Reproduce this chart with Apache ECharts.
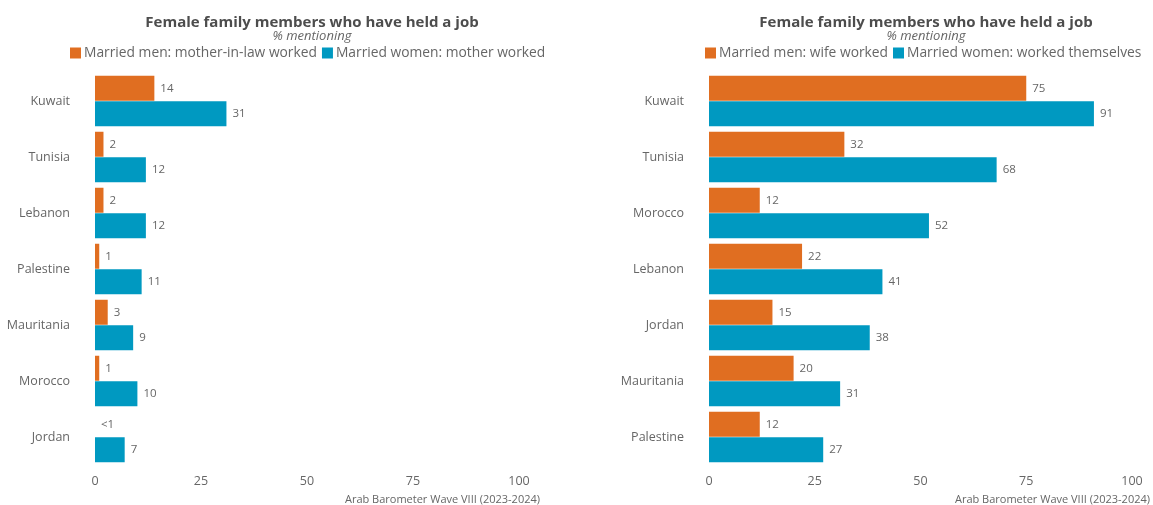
<!DOCTYPE html>
<html>
<head>
<meta charset="utf-8">
<script src="https://cdn.jsdelivr.net/npm/echarts@6/dist/echarts.min.js"></script>
<style>
  html, body { margin: 0; padding: 0; background: #fff; }
  #chart { width: 1153px; height: 505px; }
</style>
</head>
<body>
<div id="chart"></div>
<script>
// Panel 1: mothers / mothers-in-law
const leftCountries = ['Kuwait', 'Tunisia', 'Lebanon', 'Palestine', 'Mauritania', 'Morocco', 'Jordan'];
const leftMen = [14, 2, 2, 1, 3, 1, 0];          // Jordan reported as "<1"
const leftMenLabels = ['14', '2', '2', '1', '3', '1', '<1'];
const leftWomen = [31, 12, 12, 11, 9, 10, 7];

// Panel 2: wives / women themselves
const rightCountries = ['Kuwait', 'Tunisia', 'Morocco', 'Lebanon', 'Jordan', 'Mauritania', 'Palestine'];
const rightMen = [75, 32, 12, 22, 15, 20, 12];
const rightWomen = [91, 68, 52, 41, 38, 31, 27];

const xTicks = [0, 25, 50, 75, 100];

const FONT = 'Open Sans';
const ORANGE = '#E06E21';
const BLUE = '#0099C1';
const TEXT = '#666666';

const chart = echarts.init(document.getElementById('chart'));

function xAxisFor(gridIndex) {
  return {
    type: 'value', gridIndex: gridIndex, min: xTicks[0], max: xTicks[xTicks.length - 1],
    interval: xTicks[1] - xTicks[0],
    axisLine: { show: false }, axisTick: { show: false }, splitLine: { show: false },
    axisLabel: { color: TEXT, fontFamily: FONT, fontSize: 12.5, margin: 10 }
  };
}
function yAxisFor(gridIndex, cats) {
  return {
    type: 'category', gridIndex: gridIndex, data: cats, inverse: true,
    axisLine: { show: false }, axisTick: { show: false },
    axisLabel: { color: TEXT, fontFamily: FONT, fontSize: 12.5, margin: 25 }
  };
}
function barSeries(name, data, color, axisIndex, labels) {
  return {
    name: name, type: 'bar', data: data,
    xAxisIndex: axisIndex, yAxisIndex: axisIndex,
    barWidth: 25, barGap: '2%',
    itemStyle: { color: color },
    label: {
      show: true, position: 'right', distance: 6,
      color: TEXT, fontFamily: FONT, fontSize: 11.5,
      formatter: labels ? (p) => labels[p.dataIndex] : '{c}'
    }
  };
}
function titleFor(left) {
  return {
    text: 'Female family members who have held a job',
    subtext: '% mentioning',
    left: left, top: 10, textAlign: 'center', itemGap: 0,
    textStyle: { fontFamily: FONT, fontSize: 15, fontWeight: 'bold', color: '#4d4d4d' },
    subtextStyle: { fontFamily: FONT, fontSize: 13, fontStyle: 'italic', color: TEXT }
  };
}
function legendFor(names, left) {
  return {
    data: names, top: 41, left: left,
    itemWidth: 11, itemHeight: 11, itemGap: 5, icon: 'rect',
    textStyle: { fontFamily: FONT, fontSize: 13.8, color: TEXT, padding: [0, 0, 0, -2] }
  };
}

const leftNames = ['Married men: mother-in-law worked', 'Married women: mother worked'];
const rightNames = ['Married men: wife worked', 'Married women: worked themselves'];

chart.setOption({
  animation: false,
  title: [titleFor(307), titleFor(921)],
  legend: [legendFor(leftNames, 65), legendFor(rightNames, 700)],
  grid: [
    { left: 95, width: 424, top: 73, height: 392 },
    { left: 709, width: 423, top: 73, height: 392 }
  ],
  xAxis: [xAxisFor(0), xAxisFor(1)],
  yAxis: [yAxisFor(0, leftCountries), yAxisFor(1, rightCountries)],
  series: [
    barSeries(leftNames[0], leftMen, ORANGE, 0, leftMenLabels),
    barSeries(leftNames[1], leftWomen, BLUE, 0),
    barSeries(rightNames[0], rightMen, ORANGE, 1),
    barSeries(rightNames[1], rightWomen, BLUE, 1)
  ],
  graphic: [
    { type: 'text', right: 613, top: 494,
      style: { text: 'Arab Barometer Wave VIII (2023-2024)', fill: TEXT, font: '11px "Open Sans"' } },
    { type: 'text', right: 3, top: 494,
      style: { text: 'Arab Barometer Wave VIII (2023-2024)', fill: TEXT, font: '11px "Open Sans"' } }
  ]
});
</script>
</body>
</html>
